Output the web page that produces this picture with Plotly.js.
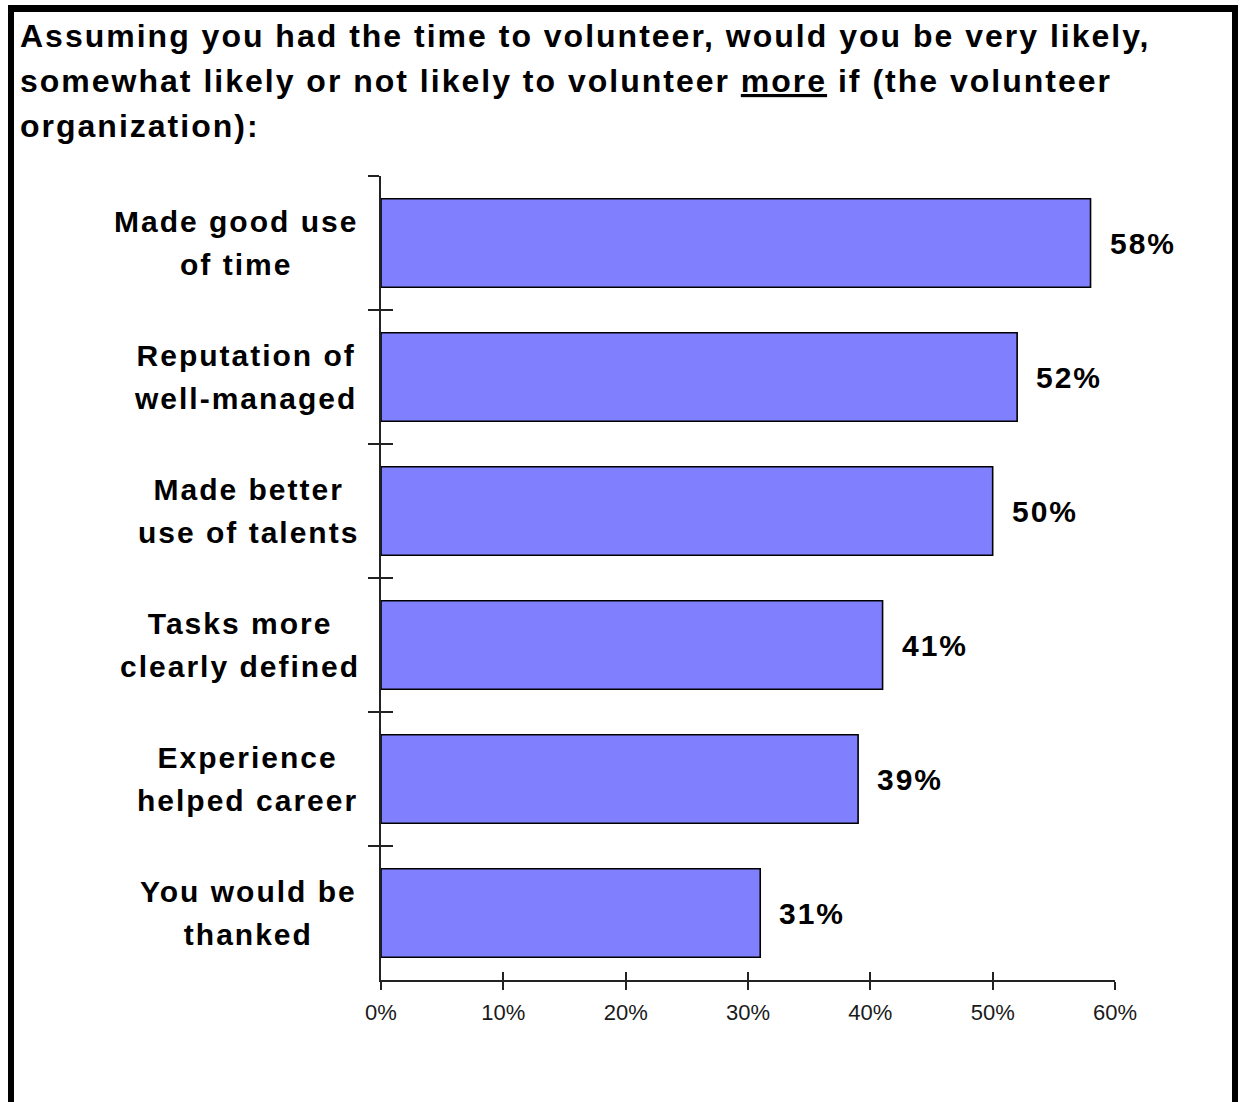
<!DOCTYPE html>
<html><head><meta charset="utf-8">
<script src="https://cdn.plot.ly/plotly-3.0.1.min.js"></script>
<style>
html,body{margin:0;padding:0;background:#fff;overflow:hidden;}
#chart{width:1240px;height:1102px;}
#frame{position:absolute;left:8px;top:5px;width:1218px;height:1200px;border:6px solid #000;border-top-width:7px;border-bottom:none;pointer-events:none;}
#chart .gtitle{letter-spacing:2px;}
#chart .annotation-text{letter-spacing:2px;}
</style></head>
<body><div id="chart"></div><div id="frame"></div>
<script>
// ---- data ----
const titleLines = [
  "Assuming you had the time to volunteer, would you be very likely,",
  "somewhat likely or not likely to volunteer <u>more</u> if (the volunteer",
  "organization):"
];
const categories = [
  ["Made good use", "of time"],
  ["Reputation of", "well-managed"],
  ["Made better", "use of talents"],
  ["Tasks more", "clearly defined"],
  ["Experience", "helped career"],
  ["You would be", "thanked"]
];
const values = [58, 52, 50, 41, 39, 31];
const valueLabels = ["58%", "52%", "50%", "41%", "39%", "31%"];
const xTickSuffix = "%";

// ---- build ----
const FONT = "Liberation Sans, Arial, sans-serif";
const wrap = (s, px) => '<span style="font-size:' + px + 'px">' + s + '</span>';
const catKeys = categories.map(c => c.join(' '));
const catText = categories.map(c => c.map(l => wrap(l, 30)).join('<br>'));
const titleText = titleLines.map(l => wrap(l, 32)).join('<br>');

const bars = {
  type: 'bar', orientation: 'h',
  x: values, y: catKeys,
  width: 0.66,
  marker: {color: '#8080FF', line: {color: '#000', width: 1.6}},
  hoverinfo: 'skip', showlegend: false
};
const ghost = {
  type: 'scatter', mode: 'markers',
  x: values, y: catKeys, xaxis: 'x2', yaxis: 'y2',
  marker: {opacity: 0}, hoverinfo: 'skip', showlegend: false
};

const valueAnn = values.map((v, i) => ({
  x: v, y: catKeys[i], xref: 'x', yref: 'y',
  text: valueLabels[i], showarrow: false,
  xanchor: 'left', yanchor: 'middle', xshift: 20,
  font: {family: FONT, size: 30, color: '#000', weight: 'bold'}
}));
const catAnn = catKeys.map((k, i) => ({
  x: 0, y: k, xref: 'paper', yref: 'y',
  text: catText[i], showarrow: false, align: 'center',
  xanchor: 'right', yanchor: 'middle', xshift: -34,
  font: {family: FONT, size: 33, color: '#000', weight: 'bold'}
}));

const axisCommon = {
  showline: true, linecolor: '#222', linewidth: 2,
  tickcolor: '#222', tickwidth: 2,
  showgrid: false, zeroline: false, fixedrange: true
};

const layout = {
  width: 1240, height: 1102,
  margin: {l: 381, r: 125, t: 176, b: 122, pad: 0},
  paper_bgcolor: '#fff', plot_bgcolor: '#fff',
  title: {
    text: titleText, xref: 'container', yref: 'container',
    x: 20 / 1240, xanchor: 'left', y: 1 - 47 / 1102, yanchor: 'top',
    font: {family: FONT, size: 34.6, color: '#000', weight: 'bold'}
  },
  xaxis: Object.assign({}, axisCommon, {
    range: [0, 60], dtick: 10, ticksuffix: xTickSuffix,
    ticks: 'outside', ticklen: 8, ticklabelstandoff: 4,
    tickfont: {family: FONT, size: 22, color: '#1a1a1a'}
  }),
  xaxis2: Object.assign({}, axisCommon, {
    overlaying: 'x', anchor: 'y2', side: 'bottom',
    range: [0, 60], dtick: 10, ticks: 'inside', ticklen: 8,
    showticklabels: false
  }),
  yaxis: Object.assign({}, axisCommon, {
    type: 'category', range: [5.5, -0.5],
    ticks: 'outside', ticklen: 11, tickson: 'boundaries',
    showticklabels: false
  }),
  yaxis2: Object.assign({}, axisCommon, {
    type: 'category', overlaying: 'y', anchor: 'x2', side: 'left',
    range: [5.5, -0.5], ticks: 'inside', ticklen: 12, tickson: 'boundaries',
    showticklabels: false
  }),
  annotations: valueAnn.concat(catAnn),
  bargap: 0.34
};

Plotly.newPlot('chart', [bars, ghost], layout, {displayModeBar: false, staticPlot: true});
</script>
</body></html>
